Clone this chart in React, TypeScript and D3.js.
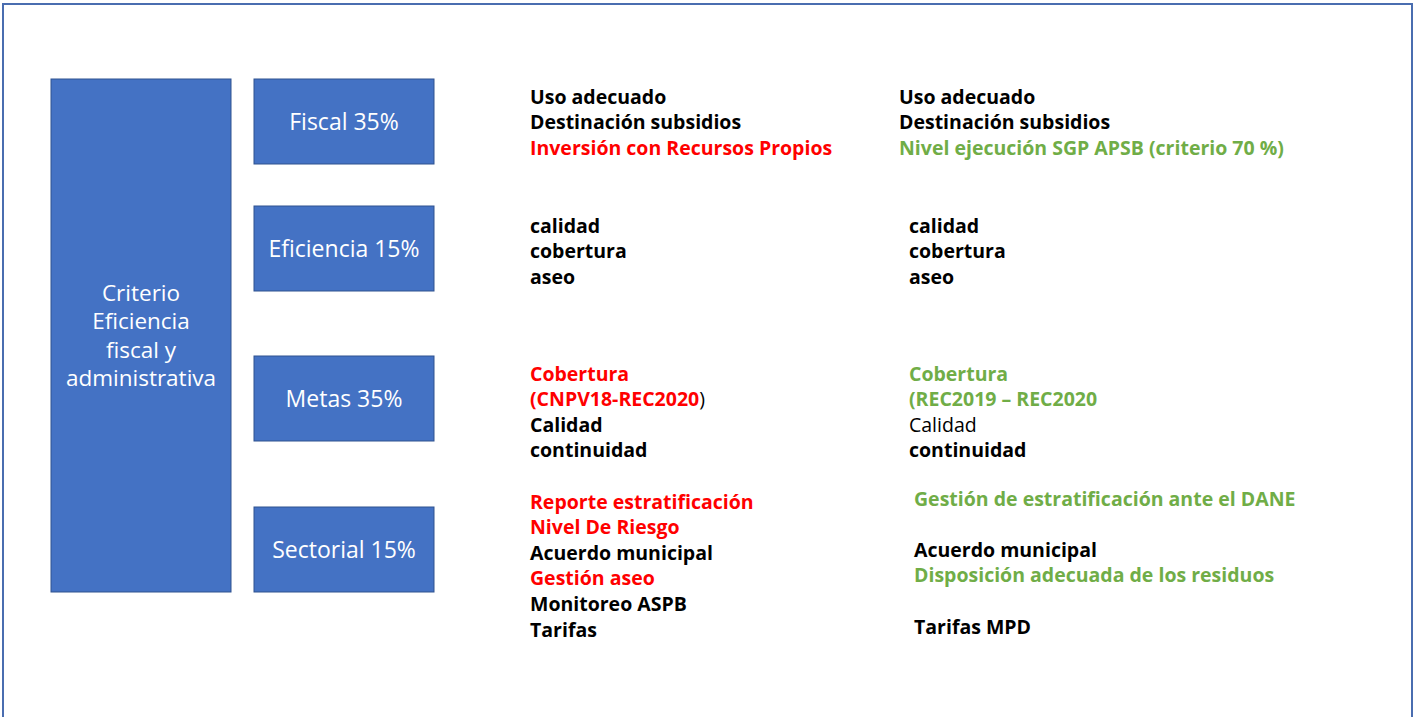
import * as React from "react";
import { scaleLinear } from "d3";

// box labels, top to bottom
const criterio = ["Criterio", "Eficiencia", "fiscal y", "administrativa"];
const boxLabels = ["Fiscal 35%", "Eficiencia 15%", "Metas 35%", "Sectorial 15%"];

// each line: [text, colour, bold]; a line can have extra pieces
type Piece = [string, string, boolean];
type Line = Piece[];

const K = "#000000";
const R = "#FF0000";
const G = "#70AD47";

const leftItems: Line[][] = [
  [[["Uso adecuado", K, true]], [["Destinación subsidios", K, true]], [["Inversión con Recursos Propios", R, true]]],
  [[["calidad", K, true]], [["cobertura", K, true]], [["aseo", K, true]]],
  [
    [["Cobertura", R, true]],
    [["(CNPV18-REC2020", R, true], [")", K, false]],
    [["Calidad", K, true]],
    [["continuidad", K, true]],
  ],
  [
    [["Reporte estratificación", R, true]],
    [["Nivel De Riesgo", R, true]],
    [["Acuerdo municipal", K, true]],
    [["Gestión aseo", R, true]],
    [["Monitoreo ASPB", K, true]],
    [["Tarifas", K, true]],
  ],
];

const rightItems: Line[][] = [
  [[["Uso adecuado", K, true]], [["Destinación subsidios", K, true]], [["Nivel ejecución SGP APSB (criterio 70 %)", G, true]]],
  [[["calidad", K, true]], [["cobertura", K, true]], [["aseo", K, true]]],
  [
    [["Cobertura", G, true]],
    [["(REC2019 – REC2020", G, true]],
    [["Calidad", K, false]],
    [["continuidad", K, true]],
  ],
  [
    [["Gestión de estratificación ante el DANE", G, true]],
    [],
    [["Acuerdo municipal", K, true]],
    [["Disposición adecuada de los residuos", G, true]],
    [],
    [["Tarifas MPD", K, true]],
  ],
];

// layout
const W = 1424;
const H = 717;
const rowTops = [79, 206, 356, 507];
const boxH = 85;
const rightX = [899, 909, 909, 914];
const leftX = 530;
const lineH = 25.6;
const FILL = "#4472C4";
const EDGE = "#2F528F";
const FONT = "'Open Sans', sans-serif";

export default function App() {
  const y = scaleLinear().domain([0, H]).range([0, H]);
  const bigTop = rowTops[0];
  const bigBottom = rowTops[rowTops.length - 1] + boxH;
  const bigMid = (bigTop + bigBottom) / 2;

  const renderLines = (lines: Line[], x: number, top: number) =>
    lines.map((ln, i) => (
      <text key={i} x={x} y={y(top + i * lineH + 6.5)} fontSize={19.5} fontFamily={FONT}>
        {ln.map((p, j) => (
          <tspan key={j} fill={p[1]} fontWeight={p[2] ? 700 : 400}>
            {p[0]}
          </tspan>
        ))}
      </text>
    ));

  return (
    <div style={{ position: "absolute", left: 0, top: 0 }}>
      <svg width={W} height={H} style={{ display: "block", background: "#fff" }}>
        {/* slide frame */}
        <path d={`M3,${H} V4 H1412 V${H}`} fill="none" stroke="#4A6DB0" strokeWidth={2} />

        <rect x={51} y={y(bigTop)} width={180} height={y(bigBottom) - y(bigTop)} fill={FILL} stroke={EDGE} strokeWidth={1} />
        {criterio.map((t, i) => (
          <text
            key={t}
            x={141}
            y={y(bigMid + (i - (criterio.length - 1) / 2) * 28.5 + 8)}
            textAnchor="middle"
            fill="#fff"
            fontSize={22.5}
            fontFamily={FONT}
          >
            {t}
          </text>
        ))}

        {boxLabels.map((t, i) => (
          <g key={t}>
            <rect x={254} y={y(rowTops[i])} width={180} height={boxH} fill={FILL} stroke={EDGE} strokeWidth={1} />
            <text
              x={344}
              y={y(rowTops[i] + boxH / 2 + 8)}
              textAnchor="middle"
              fill="#fff"
              fontSize={23}
              fontFamily={FONT}
            >
              {t}
            </text>
          </g>
        ))}

        {leftItems.map((lines, i) => (
          <g key={"l" + i}>{renderLines(lines, leftX, [97, 226, 374, 502][i])}</g>
        ))}
        {rightItems.map((lines, i) => (
          <g key={"r" + i}>{renderLines(lines, rightX[i], [97, 226, 374, 499][i])}</g>
        ))}
      </svg>
    </div>
  );
}
